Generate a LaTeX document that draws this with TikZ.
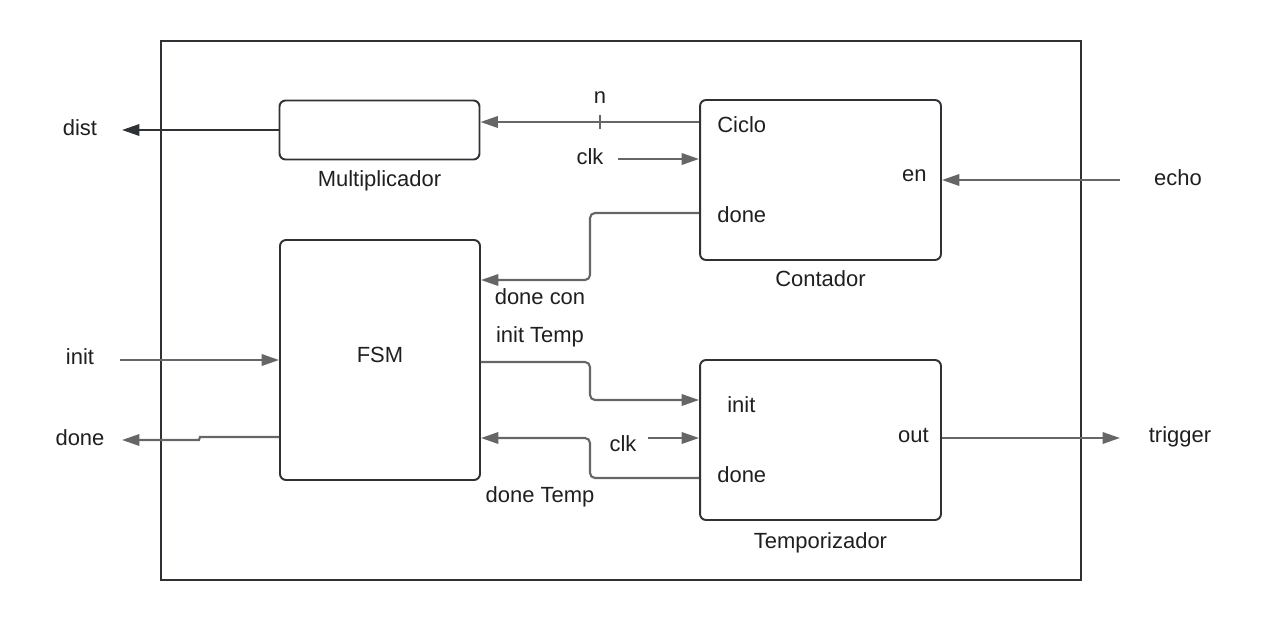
\documentclass[tikz,border=0pt]{standalone}
\usepackage{fontspec}
\setmainfont{Liberation Sans}
\usetikzlibrary{arrows.meta,positioning}
\definecolor{boxline}{HTML}{2E3136}
\definecolor{wirecol}{HTML}{666666}

\begin{document}
\begin{tikzpicture}[x=0.02cm,y=-0.02cm,>={Triangle[length=0.35cm,width=0.23cm]},
  block/.style={draw=boxline,line width=1.1pt,rounded corners=0.12cm,minimum width=4cm,
    font=\fontsize{12.5}{15}\selectfont},
  wire/.style={draw=wirecol,line width=1.2pt,rounded corners=0.1cm},
  lbl/.style={font=\fontsize{12.5}{15}\selectfont,text=black!88,inner sep=0pt}]
  \useasboundingbox (0,0) rectangle (1280,622);
  \draw[boxline,line width=1pt] (161,41) rectangle (1081,580);

  % blocks
  \node[block,minimum height=1.18cm] (mult) at (379.5,130) {};
  \node[lbl,below=0.2cm of mult] (multname) {Multiplicador};
  \node[block,minimum width=4.82cm,minimum height=3.2cm] (cont) at (820.5,180) {};
  \node[lbl,below=0.18cm of cont] (contname) {Contador};
  \node[block,minimum height=4.8cm] (fsm) at (380,360) {};
  \node[lbl] (fsmname) at (380,355) {FSM};
  \node[block,minimum width=4.82cm,minimum height=3.2cm] (temp) at (820.5,440) {};
  \node[lbl,below=0.22cm of temp] (tempname) {Temporizador};

  % ports
  \node[lbl,anchor=west] (ciclo) at (717,125) {Ciclo};
  \node[lbl,anchor=west] (contdone) at (717,215) {done};
  \node[lbl,anchor=east] (en) at (927,176) {en};
  \node[lbl,anchor=west] (tempinit) at (727,405) {init};
  \node[lbl,anchor=east] (out) at (929,436) {out};
  \node[lbl,anchor=west] (tempdone) at (717,475) {done};

  % outside signals
  \node[lbl] (dist) at (80,128) {dist};
  \node[lbl] (init) at (80,357) {init};
  \node[lbl] (done) at (80,438) {done};
  \node[lbl] (echo) at (1178,178) {echo};
  \node[lbl] (trigger) at (1180,437) {trigger};
  \node[lbl] (n) at (600,98) {n};
  \node[lbl] (clka) at (590,157) {clk};
  \node[lbl] (clkb) at (623,444) {clk};
  \node[lbl] (donecon) at (540,297) {done con};
  \node[lbl] (inittemp) at (540,337) {init Temp};
  \node[lbl] (donetemp) at (540,497) {done Temp};

  \coordinate (distend) at (122,130);
  \coordinate (initbeg) at (120,360);
  \coordinate (doneend) at (122,440);
  \coordinate (echobeg) at (1120,180);
  \coordinate (trigend) at (1120,438);
  \coordinate (clkabeg) at (618,159);
  \coordinate (clkbbeg) at (648,438);

  % connectors
  \draw[boxline,line width=1.2pt,->] (mult.west) -- (distend);
  \draw[wire,->] (cont.west |- 0,122) -- (mult.east |- 0,122);
  \draw[wirecol,line width=1.2pt] (600,115) -- (600,129);
  \draw[wire,->] (clkabeg) -- (cont.west |- clkabeg);
  \draw[wire,->] (cont.west |- 0,213) -- (590,213) -- (590,280) -- (fsm.east |- 0,280);
  \draw[wire,->] (echobeg) -- (cont.east);
  \draw[wire,->] (initbeg) -- (fsm.west |- initbeg);
  \draw[wirecol,line width=1.2pt,->] (fsm.west |- 0,437) -- (200,437) -- (199,440) -- (doneend);
  \draw[wire,->] (fsm.east |- 0,362) -- (590,362) -- (590,400) -- (temp.west |- 0,400);
  \draw[wire,->] (clkbbeg) -- (temp.west |- clkbbeg);
  \draw[wire,->] (temp.west |- 0,478) -- (590,478) -- (590,438) -- (fsm.east |- 0,438);
  \draw[wire,->] (temp.east |- trigend) -- (trigend);
\end{tikzpicture}
\end{document}
